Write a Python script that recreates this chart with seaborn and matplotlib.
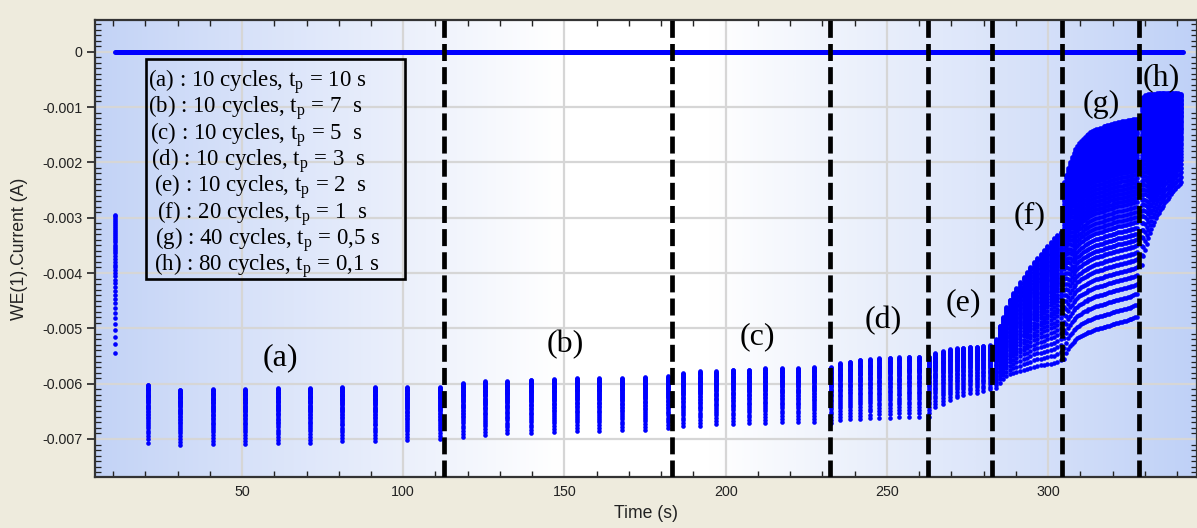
import numpy as np
import pandas as pd
import matplotlib
matplotlib.use("Agg")
import matplotlib.pyplot as plt
import seaborn as sns
from matplotlib.colors import LinearSegmentedColormap
from matplotlib.ticker import MultipleLocator, FuncFormatter
from matplotlib.patches import Rectangle

# ---------------- data (current in mA; converted to A below) ----------------
init_t = [10.6]
init_top = [-2.95]
init_bot = [-5.44]

a_t = [20.8, 30.8, 41.0, 50.9, 61.2, 71.1, 81.0, 91.3, 101.2, 111.4]
a_top = [-6.02, -6.11, -6.10, -6.10, -6.08, -6.08, -6.06, -6.06, -6.06, -6.06]
a_bot = [-7.07, -7.11, -7.09, -7.09, -7.08, -7.07, -7.04, -7.04, -7.02, -7.00]

b_t = [118.5, 125.4, 132.3, 139.5, 146.8, 153.8, 160.7, 167.8, 175.0, 182.0]
b_top = [-5.99, -5.96, -5.96, -5.93, -5.92, -5.90, -5.90, -5.90, -5.88, -5.87]
b_bot = [-6.96, -6.93, -6.90, -6.90, -6.87, -6.86, -6.86, -6.84, -6.84, -6.81]

c_t = [186.9, 192.1, 197.0, 202.4, 207.3, 212.2, 217.6, 222.5, 227.4, 232.6]
c_top = [-5.81, -5.78, -5.78, -5.75, -5.75, -5.72, -5.72, -5.72, -5.70, -5.70]
c_bot = [-6.77, -6.77, -6.73, -6.73, -6.72, -6.71, -6.69, -6.69, -6.69, -6.72]

d_t = [235.5, 238.6, 241.7, 244.8, 247.7, 251.0, 253.9, 257.0, 260.0, 263.2]
d_top = [-5.63, -5.60, -5.57, -5.555, -5.54, -5.53, -5.525, -5.51, -5.51, -5.51]
d_bot = [-6.66, -6.645, -6.645, -6.626, -6.615, -6.615, -6.60, -6.60, -6.60, -6.60]

e_t = [264.9, 267.3, 269.6, 271.7, 273.7, 275.8, 277.9, 279.9, 282.0]
e_top = [-5.45, -5.41, -5.38, -5.36, -5.35, -5.33, -5.33, -5.32, -5.31]
e_bot = [-6.42, -6.37, -6.30, -6.25, -6.20, -6.17, -6.16, -6.13, -6.10]

f_t = [283.9, 285.0, 286.0, 287.1, 288.1, 289.2, 290.2, 291.3, 292.4, 293.4,
       294.5, 295.5, 296.6, 297.7, 298.7, 299.8, 300.8, 301.9, 302.9, 304.0]
f_top = [-5.20, -4.95, -4.80, -4.62, -4.48, -4.37, -4.27, -4.17, -4.07, -3.98,
         -3.89, -3.80, -3.72, -3.65, -3.58, -3.51, -3.44, -3.37, -3.31, -3.25]
f_bot = [-6.08, -5.98, -5.91, -5.86, -5.83, -5.81, -5.79, -5.77, -5.75, -5.73,
         -5.71, -5.69, -5.68, -5.67, -5.66, -5.65, -5.64, -5.63, -5.61, -5.57]

g_t = [305.0, 305.6, 306.1, 306.7, 307.3, 307.9, 308.5, 309.1, 309.6, 310.2,
       310.8, 311.4, 312.0, 312.5, 313.1, 313.7, 314.3, 314.9, 315.4, 316.0,
       316.6, 317.2, 317.7, 318.3, 318.9, 319.5, 320.1, 320.6, 321.2, 321.8,
       322.4, 323.0, 323.5, 324.1, 324.7, 325.3, 325.8, 326.4, 327.0, 327.6]
g_top = [-2.35, -2.22, -2.10, -2.00, -1.91, -1.83, -1.76, -1.70, -1.65, -1.61,
         -1.57, -1.54, -1.51, -1.48, -1.46, -1.44, -1.42, -1.40, -1.39, -1.38,
         -1.37, -1.35, -1.34, -1.33, -1.32, -1.31, -1.30, -1.29, -1.28, -1.27,
         -1.27, -1.26, -1.25, -1.25, -1.24, -1.23, -1.23, -1.22, -1.22, -1.21]
g_bot = [-5.55, -5.45, -5.38, -5.32, -5.28, -5.24, -5.21, -5.18, -5.16, -5.14,
         -5.12, -5.10, -5.09, -5.07, -5.06, -5.05, -5.03, -5.02, -5.01, -5.00,
         -4.99, -4.98, -4.97, -4.96, -4.95, -4.94, -4.93, -4.92, -4.91, -4.90,
         -4.89, -4.88, -4.87, -4.86, -4.85, -4.84, -4.83, -4.82, -4.80, -4.79]

h_t = [329.2, 329.6, 330.1, 330.6, 331.0, 331.5, 332.0, 332.4, 332.9, 333.4,
       333.8, 334.3, 334.7, 335.2, 335.7, 336.1, 336.6, 337.1, 337.5, 338.0,
       338.5, 338.9, 339.4, 339.8, 340.3, 340.8, 341.2]
h_top = [-0.84, -0.81, -0.79, -0.78, -0.77, -0.77, -0.76, -0.76, -0.76, -0.76,
         -0.75, -0.75, -0.75, -0.75, -0.75, -0.75, -0.75, -0.75, -0.75, -0.75,
         -0.75, -0.75, -0.75, -0.75, -0.75, -0.76, -0.77]
h_bot = [-3.85, -3.70, -3.58, -3.47, -3.37, -3.28, -3.20, -3.13, -3.07, -3.01,
         -2.96, -2.91, -2.86, -2.82, -2.78, -2.74, -2.70, -2.66, -2.62, -2.58,
         -2.54, -2.51, -2.48, -2.45, -2.42, -2.39, -2.36]

# relative position of the samples inside one pulse (0 = first/most negative
# sample, 1 = last), read from the dot spacing of a column
pulse_profile = [0.0, 0.06, 0.115, 0.165, 0.21, 0.25, 0.29, 0.325, 0.36, 0.39,
                 0.42, 0.45, 0.48, 0.505, 0.53, 0.555, 0.58, 0.60, 0.62, 0.64,
                 0.66, 0.68, 0.70, 0.72, 0.74, 0.755, 0.77, 0.785, 0.80, 0.815,
                 0.83, 0.845, 0.86, 0.875, 0.89, 0.905, 0.92, 0.935, 0.95, 0.965,
                 0.98, 0.99, 1.0]

zero_t = [10.6, 341.9]
zero_i = [0.0, 0.0]

boundaries = [112.6, 183.3, 232.4, 262.9, 282.7, 304.4, 328.2]

region_labels = ["(a)", "(b)", "(c)", "(d)", "(e)", "(f)", "(g)", "(h)"]
label_t = [62.0, 150.3, 209.9, 248.9, 273.6, 294.2, 316.4, 335.1]
label_i = [-5.54, -5.29, -5.15, -4.86, -4.53, -2.97, -0.96, -0.47]

legend_lines = [
    "(a) : 10 cycles, t$_\\mathregular{p}$ = 10 s",
    "(b) : 10 cycles, t$_\\mathregular{p}$ = 7  s",
    "(c) : 10 cycles, t$_\\mathregular{p}$ = 5  s",
    "(d) : 10 cycles, t$_\\mathregular{p}$ = 3  s",
    "(e) : 10 cycles, t$_\\mathregular{p}$ = 2  s",
    "(f) : 20 cycles, t$_\\mathregular{p}$ = 1  s",
    "(g) : 40 cycles, t$_\\mathregular{p}$ = 0,5 s",
    "(h) : 80 cycles, t$_\\mathregular{p}$ = 0,1 s",
]

y_ticks = [0.0, -0.001, -0.002, -0.003, -0.004, -0.005, -0.006, -0.007]
x_ticks = [50, 100, 150, 200, 250, 300]

# ---------------- build long table of points ----------------
rows = []
for ts, tops, bots in [(init_t, init_top, init_bot), (a_t, a_top, a_bot),
                       (b_t, b_top, b_bot), (c_t, c_top, c_bot),
                       (d_t, d_top, d_bot), (e_t, e_top, e_bot),
                       (f_t, f_top, f_bot), (g_t, g_top, g_bot),
                       (h_t, h_top, h_bot)]:
    for t, top, bot in zip(ts, tops, bots):
        for fr in pulse_profile:
            rows.append((t, (bot + fr * (top - bot)) * 1e-3))
df = pd.DataFrame(rows, columns=["Time", "Current"])
df_zero = pd.DataFrame({"Time": zero_t, "Current": zero_i})

# ---------------- figure ----------------
sns.set_theme(style="white")
plt.rcParams["font.family"] = ["Liberation Sans", "DejaVu Sans"]
plt.rcParams["mathtext.fontset"] = "custom"
plt.rcParams["mathtext.rm"] = "Liberation Serif"

W, H = 1197, 528
fig = plt.figure(figsize=(W / 100, H / 100), dpi=100, facecolor="#EEEBDD")
AX_L, AX_R, AX_T, AX_B = 95, 1197, 20, 477
ax = fig.add_axes([AX_L / W, (H - AX_B) / H, (AX_R - AX_L) / W, (AX_B - AX_T) / H])


def afrac(px, py):
    return (px - AX_L) / (AX_R - AX_L), (AX_B - py) / (AX_B - AX_T)


bg = LinearSegmentedColormap.from_list(
    "bg", [(0.0, "#c3d3f6"), (0.12, "#d5e0f9"), (0.3, "#eef2fc"),
           (0.42, "#ffffff"), (0.56, "#ffffff"), (0.72, "#e8eefb"),
           (0.88, "#d2def9"), (1.0, "#bfd1f7")])
ax.imshow(np.linspace(0, 1, 512)[None, :], cmap=bg, aspect="auto",
          extent=(0, 1, 0, 1), transform=ax.transAxes, zorder=0,
          interpolation="bilinear")

# grid
for xt in x_ticks:
    ax.axvline(xt, color="#d6d6d6", lw=1.6, zorder=1)
for yt in y_ticks:
    ax.axhline(yt, color="#d6d6d6", lw=1.6, zorder=1)

sns.lineplot(data=df_zero, x="Time", y="Current", color="#0000ff", lw=3.6,
             ax=ax, zorder=3)
sns.scatterplot(data=df, x="Time", y="Current", color="#0000ff", s=11,
                linewidth=0, ax=ax, zorder=3)

for b in boundaries:
    ax.axvline(b, color="black", lw=3.4, linestyle=(0, (3.6, 1.3)), zorder=5)

for lab, t, i in zip(region_labels, label_t, label_i):
    ax.text(t, i * 1e-3, lab, fontsize=23, family="Liberation Serif",
            ha="center", va="center", color="black", zorder=6)

# legend box
x0, y0 = afrac(146, 279.3)
x1, y1 = afrac(405, 59.3)
ax.add_patch(Rectangle((x0, y0), x1 - x0, y1 - y0, transform=ax.transAxes,
                       fill=False, edgecolor="black", lw=1.9, zorder=7))
leg_x = [148.0, 148.0, 149.5, 151.0, 154.0, 157.0, 155.0, 153.5]
for k, line in enumerate(legend_lines):
    fx, fy = afrac(leg_x[k], 77.5 + 26.3 * k)
    ax.text(fx, fy, line, transform=ax.transAxes, fontsize=16.5,
            family="Liberation Serif", ha="left", va="center_baseline",
            color="black", zorder=8)

# axes limits / ticks
ax.set_xlim(4.4, 346.2)
ax.set_ylim(-0.007687, 0.000573)
ax.set_xticks(x_ticks)
ax.set_yticks(y_ticks)
ax.xaxis.set_minor_locator(MultipleLocator(10))
ax.yaxis.set_minor_locator(MultipleLocator(0.0001))
ax.yaxis.set_major_formatter(FuncFormatter(lambda v, p: "0" if abs(v) < 1e-12 else f"{v:.3f}"))
ax.tick_params(axis="x", which="major", direction="in", length=10, width=1.2,
               top=True, bottom=True, labelsize=10.3, pad=6, colors="#222222")
ax.tick_params(axis="x", which="minor", direction="in", length=4, width=1.0,
               top=True, bottom=True, colors="#222222")
ax.tick_params(axis="y", which="major", direction="inout", length=12, width=1.2,
               left=True, right=True, labelsize=10.3, pad=3, colors="#222222")
ax.tick_params(axis="y", which="minor", direction="in", length=4, width=0.9,
               left=True, right=True, colors="#222222")
for s in ["left", "bottom", "top", "right"]:
    ax.spines[s].set_visible(True)
    ax.spines[s].set_color("#333333")
    ax.spines[s].set_linewidth(1.6)

ax.set_xlabel("Time (s)", fontsize=12.7, color="#222222")
ax.set_ylabel("WE(1).Current (A)", fontsize=12.7, color="#222222")
ax.xaxis.set_label_coords(0.5, (AX_B - 513) / (AX_B - AX_T), transform=ax.transAxes)
ax.yaxis.set_label_coords((20 - AX_L) / (AX_R - AX_L), 0.5, transform=ax.transAxes)
ax.xaxis.label.set_va("center")
ax.yaxis.label.set_va("center")

fig.savefig("out.png", dpi=100, facecolor=fig.get_facecolor())
